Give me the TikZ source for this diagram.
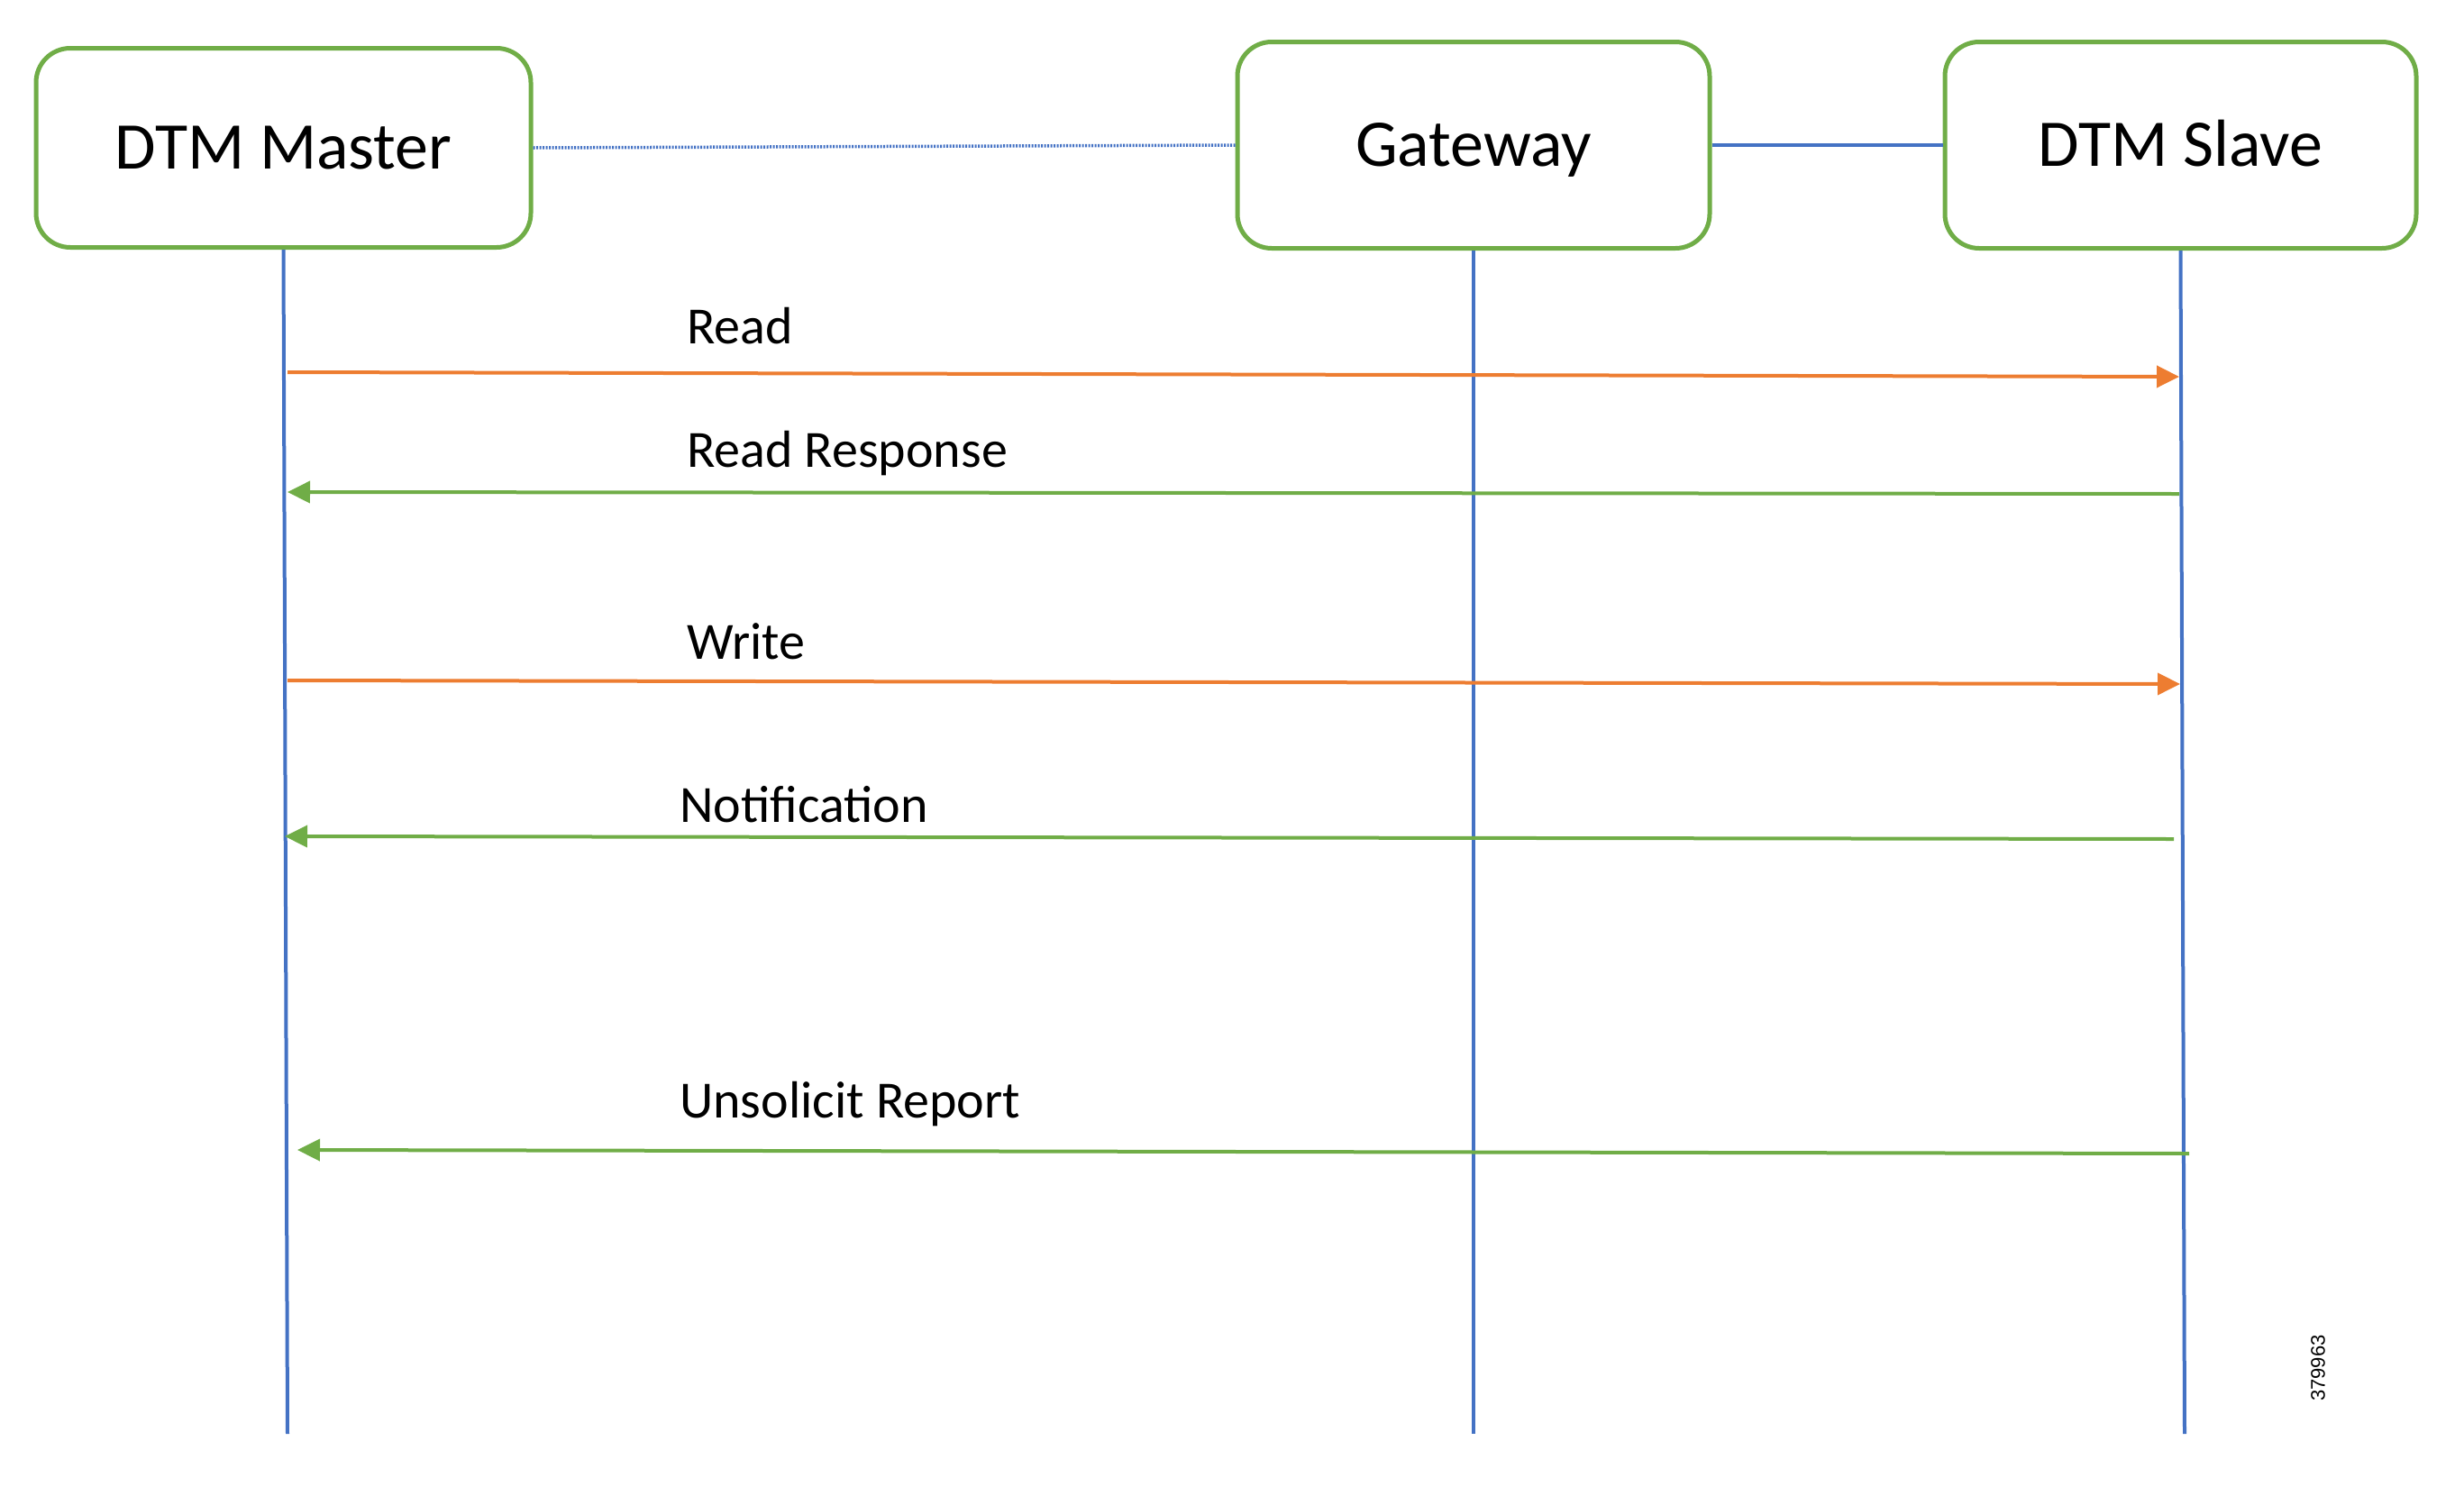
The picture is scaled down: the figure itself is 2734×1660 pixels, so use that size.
\documentclass[tikz,border=0pt]{standalone}
\usepackage{fontspec}
\setmainfont{Carlito}
\newfontfamily\numfont{Liberation Sans}
\usetikzlibrary{arrows.meta}
\definecolor{cgreen}{HTML}{70AD47}
\definecolor{cblue}{HTML}{4472C4}
\definecolor{corange}{HTML}{ED7D31}
\begin{document}
\begin{tikzpicture}[x=1pt,y=-1pt,
  actor/.style={draw=cgreen, line width=5pt, rounded corners=38pt, fill=white, inner sep=0pt,
    font=\fontsize{74}{80}\selectfont, text height=55.5pt, text depth=7.8pt},
  life/.style={draw=cblue, line width=4pt},
  reqarrow/.style={draw=corange, line width=4pt, -{Triangle[length=25pt,width=24pt]}},
  resparrow/.style={draw=cgreen, line width=4pt, -{Triangle[length=25pt,width=24pt]}},
  msg/.style={font=\fontsize{58}{62}\selectfont, anchor=base west, inner sep=0pt},
  link/.style={draw=cblue, line width=4pt},
  dotlink/.style={draw=cblue, line width=3.5pt, dash pattern=on 2pt off 1.5pt}]
\useasboundingbox (0,0) rectangle (2734,1660);

% participants
\node[actor, minimum width=549pt, minimum height=221pt] (master) at (314.5,164) {DTM Master};
\node[actor, minimum width=524pt, minimum height=229pt] (gw) at (1635,161) {Gateway};
\node[actor, minimum width=523pt, minimum height=229pt] (slave) at (2419.5,161) {DTM Slave};

% links between participants
\draw[dotlink] (master.east) -- (gw.west);
\draw[link] (gw.east) -- (slave.west);

% lifelines
\coordinate (mEnd) at (319,1591);
\coordinate (gEnd) at (1635,1591);
\coordinate (sEnd) at (2424,1591);
\draw[life] (master.south) -- (mEnd);
\draw[life] (gw.south) -- (gEnd);
\draw[life] (slave.south) -- (sEnd);

% message endpoints
\coordinate (r1a) at (319,413);  \coordinate (r1b) at (2418,418);
\coordinate (r2a) at (2418,548); \coordinate (r2b) at (319,546);
\coordinate (r3a) at (319,755);  \coordinate (r3b) at (2419,759);
\coordinate (r4a) at (2412,931); \coordinate (r4b) at (316,928);
\coordinate (r5a) at (2429,1280); \coordinate (r5b) at (330,1276);

\draw[reqarrow] (r1a) -- (r1b);
\draw[resparrow] (r2a) -- (r2b);
\draw[reqarrow] (r3a) -- (r3b);
\draw[resparrow] (r4a) -- (r4b);
\draw[resparrow] (r5a) -- (r5b);

% labels
\node[msg] (lread) at (762,381) {Read};
\node[msg] (lresp) at (762,518) {Read Response};
\node[msg] (lwrite) at (762,731) {Write};
\node[msg] (lnotif) at (754,912) {Notification};
\node[msg] (lunsol) at (754,1240) {Unsolicit Report};

\node[font=\numfont\fontsize{22}{24}\selectfont, rotate=90, inner sep=0pt] (fignum) at (2572,1518) {379963};
\end{tikzpicture}
\end{document}
